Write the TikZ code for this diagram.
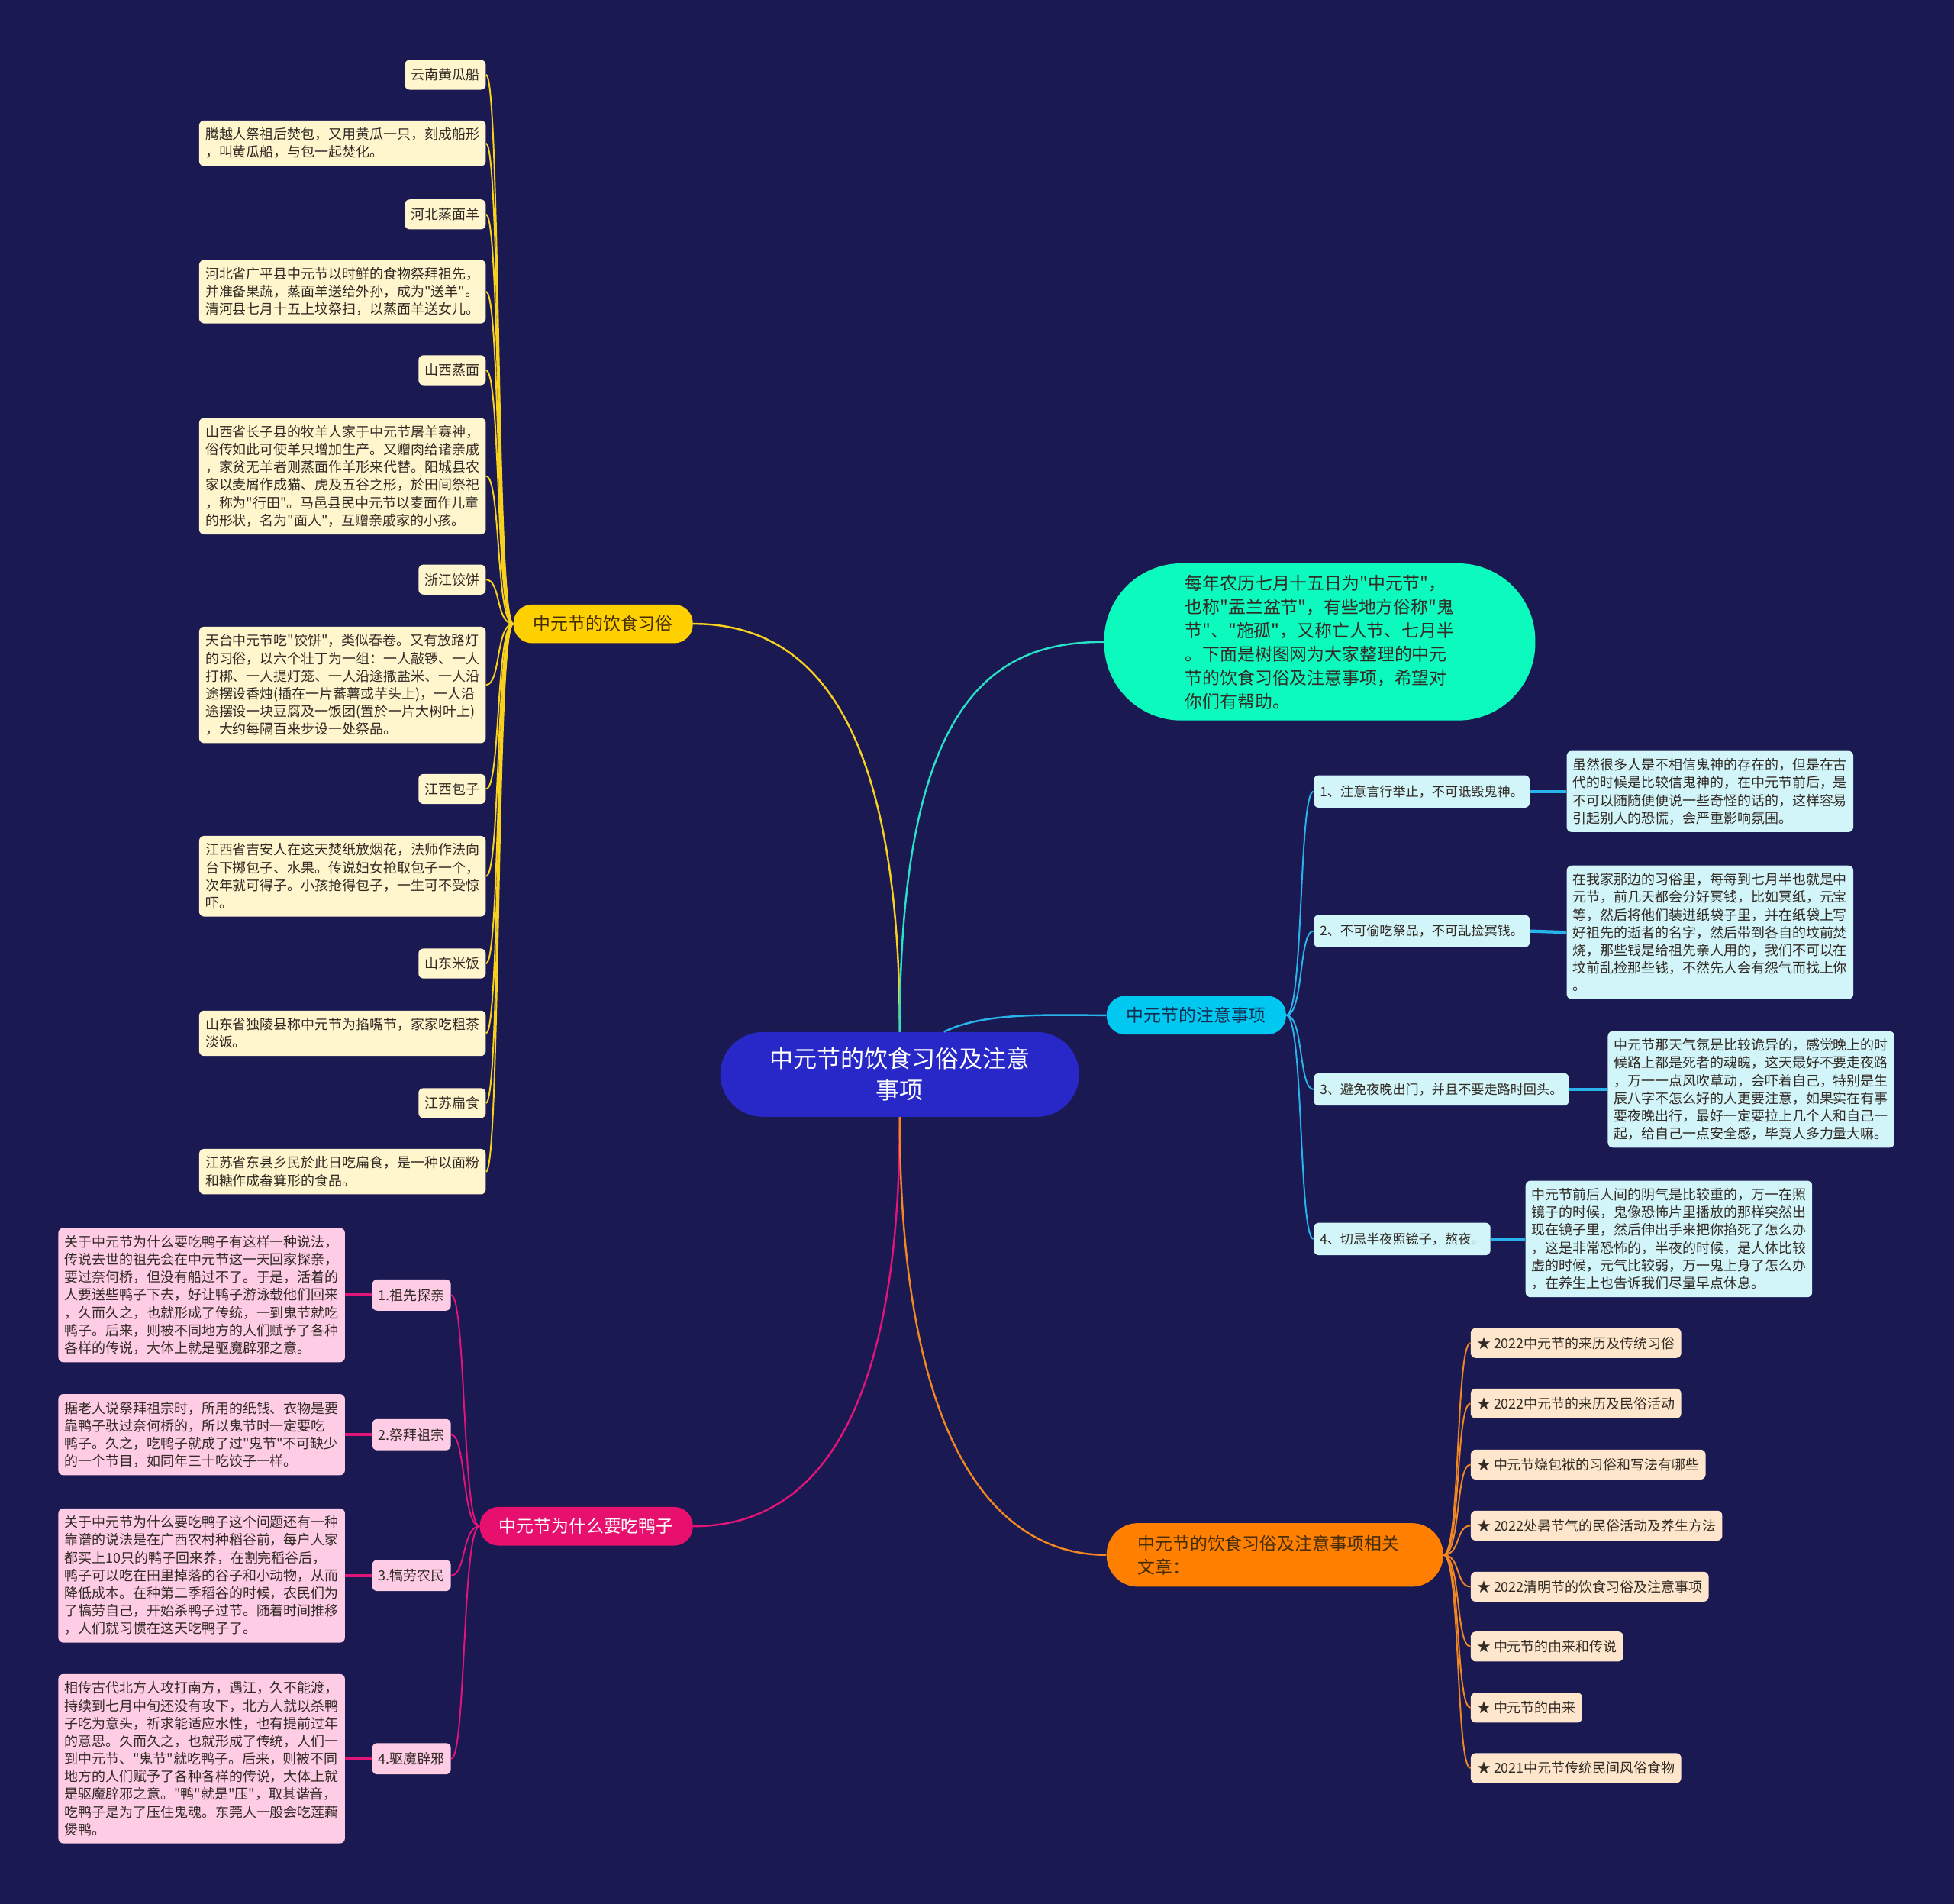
\documentclass[tikz,border=0pt]{standalone}
\usepackage{fontspec}
\newfontfamily\cjkfam{Noto Sans CJK SC}
\definecolor{bgc}{RGB}{26,25,82}
\definecolor{centerc}{RGB}{40,40,200}
\definecolor{yel}{RGB}{255,208,0}
\definecolor{yline}{RGB}{247,209,30}
\definecolor{cream}{RGB}{255,246,205}
\definecolor{tealc}{RGB}{12,250,190}
\definecolor{tline}{RGB}{40,225,200}
\definecolor{cyanb}{RGB}{0,200,240}
\definecolor{cline}{RGB}{40,180,235}
\definecolor{cyanl}{RGB}{210,245,250}
\definecolor{mag}{RGB}{232,16,110}
\definecolor{mline}{RGB}{225,20,120}
\definecolor{pinkl}{RGB}{255,204,230}
\definecolor{orb}{RGB}{255,128,0}
\definecolor{oline}{RGB}{240,135,35}
\definecolor{peach}{RGB}{253,230,204}
\definecolor{txt}{RGB}{50,42,36}
\definecolor{brtxt}{RGB}{70,45,10}
\tikzset{
  leafbase/.style={rounded corners=4pt, inner xsep=5pt, inner ysep=6pt, align=left, text=txt, font=\cjkfam\fontsize{11}{14.2}\selectfont},
  shortlab/.style={leafbase, minimum height=24pt, inner ysep=0pt},
  yleaf/.style={leafbase, fill=cream, anchor=east},
  ylab/.style={shortlab, fill=cream, anchor=east},
  pleaf/.style={leafbase, fill=pinkl, anchor=east},
  plab/.style={shortlab, fill=pinkl, anchor=east, minimum height=25pt},
  cleaf/.style={leafbase, fill=cyanl, anchor=west},
  clab/.style={shortlab, fill=cyanl, anchor=west, minimum height=26pt, font=\cjkfam\fontsize{10.5}{13}\selectfont},
  olab/.style={shortlab, fill=peach, anchor=west},
  branchbox/.style={rounded corners=15pt, minimum height=31pt, font=\cjkfam\fontsize{14}{19}\selectfont, inner xsep=6pt, inner ysep=0pt},
  ycon/.style={draw=yline, line width=1.2pt},
  mcon/.style={draw=mline, line width=1.2pt},
  ccon/.style={draw=cline, line width=1.2pt},
  ocon/.style={draw=oline, line width=1.2pt},
  mthick/.style={draw=mline, line width=2.6pt},
  cthick/.style={draw=cline, line width=2.6pt},
}
\begin{document}
\cjkfam
\begin{tikzpicture}[x=1pt,y=-1pt]
\useasboundingbox (0,0) rectangle (1568,1527);
\fill[bgc] (-6,-6) rectangle (1574,1533);

% center
\node[fill=centerc, text=white, rounded corners=34pt, minimum width=288pt, minimum height=68pt, align=center, font=\cjkfam\fontsize{19}{25}\selectfont] (c) at (722,862) {中元节的饮食习俗及注意\\事项};

% teal bubble
\node[fill=tealc, text=txt, rounded corners=62pt, minimum width=346pt, minimum height=126pt, align=left, font=\cjkfam\fontsize{14}{19}\selectfont] (tb) at (1059,515) {每年农历七月十五日为"中元节"，\\也称"盂兰盆节"，有些地方俗称"鬼\\节"、"施孤"，又称亡人节、七月半\\。下面是树图网为大家整理的中元\\节的饮食习俗及注意事项，希望对\\你们有帮助。};

% branches
\node[branchbox, fill=yel, text=brtxt, minimum width=144pt] (yb) at (484,500.5) {中元节的饮食习俗};
\node[branchbox, fill=cyanb, text={rgb,255:red,20;green,45;blue,80}, minimum width=144pt] (cb) at (960,814.5) {中元节的注意事项};
\node[branchbox, fill=mag, text=white, minimum width=171pt] (mb) at (470.5,1224.5) {中元节为什么要吃鸭子};
\node[branchbox, fill=orb, text=brtxt, text width=220pt, inner xsep=25pt, minimum height=51pt, rounded corners=25pt, align=left] (ob) at (1023,1247.5) {中元节的饮食习俗及注意事项相关\\文章：};

% main connectors
\draw[draw=yline, line width=1.5pt] (c.north) .. controls +(0,-268) and +(84,0) .. (yb.east);
\draw[draw=tline, line width=1.5pt] (c.north) .. controls +(0,-268) and +(-88,0) .. (tb.west);
\draw[draw=cline, line width=1.5pt] (c.44) .. controls +(33,-16) and +(-48,0) .. (cb.west);
\draw[draw=mline, line width=1.5pt] (c.south) .. controls +(0,264) and +(84,0) .. (mb.east);
\draw[draw=oline, line width=1.5pt] (c.south) .. controls +(0,264) and +(-88,0) .. (ob.west);

% yellow leaves
\node[ylab] (y1) at (390,60) {云南黄瓜船};
\node[yleaf] (y2) at (390,115) {腾越人祭祖后焚包，又用黄瓜一只，刻成船形\\，叫黄瓜船，与包一起焚化。};
\node[ylab] (y3) at (390,172) {河北蒸面羊};
\node[yleaf] (y4) at (390,234) {河北省广平县中元节以时鲜的食物祭拜祖先，\\并准备果蔬，蒸面羊送给外孙，成为"送羊"。\\清河县七月十五上坟祭扫，以蒸面羊送女儿。};
\node[ylab] (y5) at (390,297) {山西蒸面};
\node[yleaf] (y6) at (390,382) {山西省长子县的牧羊人家于中元节屠羊赛神，\\俗传如此可使羊只增加生产。又赠肉给诸亲戚\\，家贫无羊者则蒸面作羊形来代替。阳城县农\\家以麦屑作成猫、虎及五谷之形，於田间祭祀\\，称为"行田"。马邑县民中元节以麦面作儿童\\的形状，名为"面人"，互赠亲戚家的小孩。};
\node[ylab] (y7) at (390,465) {浙江饺饼};
\node[yleaf] (y8) at (390,549.5) {天台中元节吃"饺饼"，类似春卷。又有放路灯\\的习俗，以六个壮丁为一组：一人敲锣、一人\\打梆、一人提灯笼、一人沿途撒盐米、一人沿\\途摆设香烛(插在一片蕃薯或芋头上)，一人沿\\途摆设一块豆腐及一饭团(置於一片大树叶上)\\，大约每隔百来步设一处祭品。};
\node[ylab] (y9) at (390,633) {江西包子};
\node[yleaf] (y10) at (390,703) {江西省吉安人在这天焚纸放烟花，法师作法向\\台下掷包子、水果。传说妇女抢取包子一个，\\次年就可得子。小孩抢得包子，一生可不受惊\\吓。};
\node[ylab] (y11) at (390,773) {山东米饭};
\node[yleaf] (y12) at (390,829) {山东省独陵县称中元节为掐嘴节，家家吃粗茶\\淡饭。};
\node[ylab] (y13) at (390,885) {江苏扁食};
\node[yleaf] (y14) at (390,940) {江苏省东县乡民於此日吃扁食，是一种以面粉\\和糖作成畚箕形的食品。};
\foreach \i in {1,...,14} {
  \draw[ycon] (yb.west) .. controls +(-14,0) and +(12,0) .. (y\i.east);
}

% magenta
\node[plab] (m1) at (362,1039) {1.祖先探亲};
\node[plab] (m2) at (362,1151) {2.祭拜祖宗};
\node[plab] (m3) at (362,1264) {3.犒劳农民};
\node[plab] (m4) at (362,1411) {4.驱魔辟邪};
\node[pleaf] (p1) at (277,1039) {关于中元节为什么要吃鸭子有这样一种说法，\\传说去世的祖先会在中元节这一天回家探亲，\\要过奈何桥，但没有船过不了。于是，活着的\\人要送些鸭子下去，好让鸭子游泳载他们回来\\，久而久之，也就形成了传统，一到鬼节就吃\\鸭子。后来，则被不同地方的人们赋予了各种\\各样的传说，大体上就是驱魔辟邪之意。};
\node[pleaf] (p2) at (277,1151) {据老人说祭拜祖宗时，所用的纸钱、衣物是要\\靠鸭子驮过奈何桥的，所以鬼节时一定要吃\\鸭子。久之，吃鸭子就成了过"鬼节"不可缺少\\的一个节目，如同年三十吃饺子一样。};
\node[pleaf] (p3) at (277,1264) {关于中元节为什么要吃鸭子这个问题还有一种\\靠谱的说法是在广西农村种稻谷前，每户人家\\都买上10只的鸭子回来养，在割完稻谷后，\\鸭子可以吃在田里掉落的谷子和小动物，从而\\降低成本。在种第二季稻谷的时候，农民们为\\了犒劳自己，开始杀鸭子过节。随着时间推移\\，人们就习惯在这天吃鸭子了。};
\node[pleaf] (p4) at (277,1411) {相传古代北方人攻打南方，遇江，久不能渡，\\持续到七月中旬还没有攻下，北方人就以杀鸭\\子吃为意头，祈求能适应水性，也有提前过年\\的意思。久而久之，也就形成了传统，人们一\\到中元节、"鬼节"就吃鸭子。后来，则被不同\\地方的人们赋予了各种各样的传说，大体上就\\是驱魔辟邪之意。"鸭"就是"压"，取其谐音，\\吃鸭子是为了压住鬼魂。东莞人一般会吃莲藕\\煲鸭。};
\foreach \i in {1,...,4} {
  \draw[mcon] (mb.west) .. controls +(-14,0) and +(12,0) .. (m\i.east);
  \draw[mthick] (m\i.west) -- (p\i.east);
}

% cyan
\node[clab] (c1) at (1054,635) {1、注意言行举止，不可诋毁鬼神。};
\node[clab] (c2) at (1054,747) {2、不可偷吃祭品，不可乱捡冥钱。};
\node[clab] (c3) at (1054,874) {3、避免夜晚出门，并且不要走路时回头。};
\node[clab] (c4) at (1054,994) {4、切忌半夜照镜子，熬夜。};
\node[cleaf] (d1) at (1257,635) {虽然很多人是不相信鬼神的存在的，但是在古\\代的时候是比较信鬼神的，在中元节前后，是\\不可以随随便便说一些奇怪的话的，这样容易\\引起别人的恐慌，会严重影响氛围。};
\node[cleaf] (d2) at (1257,748) {在我家那边的习俗里，每每到七月半也就是中\\元节，前几天都会分好冥钱，比如冥纸，元宝\\等，然后将他们装进纸袋子里，并在纸袋上写\\好祖先的逝者的名字，然后带到各自的坟前焚\\烧，那些钱是给祖先亲人用的，我们不可以在\\坟前乱捡那些钱，不然先人会有怨气而找上你\\。};
\node[cleaf] (d3) at (1290,874) {中元节那天气氛是比较诡异的，感觉晚上的时\\候路上都是死者的魂魄，这天最好不要走夜路\\，万一一点风吹草动，会吓着自己，特别是生\\辰八字不怎么好的人更要注意，如果实在有事\\要夜晚出行，最好一定要拉上几个人和自己一\\起，给自己一点安全感，毕竟人多力量大嘛。};
\node[cleaf] (d4) at (1224,994) {中元节前后人间的阴气是比较重的，万一在照\\镜子的时候，鬼像恐怖片里播放的那样突然出\\现在镜子里，然后伸出手来把你掐死了怎么办\\，这是非常恐怖的，半夜的时候，是人体比较\\虚的时候，元气比较弱，万一鬼上身了怎么办\\，在养生上也告诉我们尽量早点休息。};
\foreach \i in {1,...,4} {
  \draw[ccon] (cb.east) .. controls +(14,0) and +(-12,0) .. (c\i.west);
  \draw[cthick] (c\i.east) -- (d\i.west);
}

% orange
\node[olab] (o1) at (1180,1077.5) {★ 2022中元节的来历及传统习俗};
\node[olab] (o2) at (1180,1126) {★ 2022中元节的来历及民俗活动};
\node[olab] (o3) at (1180,1175) {★ 中元节烧包袱的习俗和写法有哪些};
\node[olab] (o4) at (1180,1224) {★ 2022处暑节气的民俗活动及养生方法};
\node[olab] (o5) at (1180,1273) {★ 2022清明节的饮食习俗及注意事项};
\node[olab] (o6) at (1180,1321) {★ 中元节的由来和传说};
\node[olab] (o7) at (1180,1370) {★ 中元节的由来};
\node[olab] (o8) at (1180,1418.5) {★ 2021中元节传统民间风俗食物};
\foreach \i in {1,...,8} {
  \draw[ocon] (ob.east) .. controls +(14,0) and +(-12,0) .. (o\i.west);
}
\end{tikzpicture}
\end{document}
